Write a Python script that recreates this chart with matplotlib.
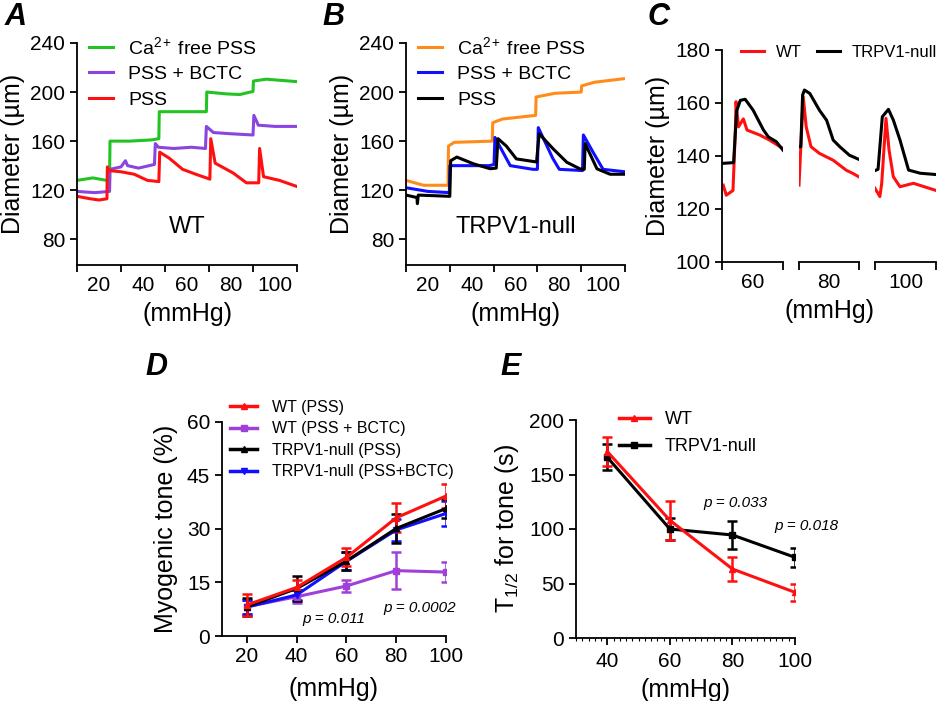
import numpy as np
import matplotlib
matplotlib.use("Agg")
import matplotlib.pyplot as plt
from matplotlib.ticker import MultipleLocator
from matplotlib.lines import Line2D

plt.rcParams['font.family'] = ['Liberation Sans', 'DejaVu Sans']
plt.rcParams['mathtext.fontset'] = 'custom'
plt.rcParams['mathtext.rm'] = 'Liberation Sans'
plt.rcParams['mathtext.it'] = 'Liberation Sans:italic'

# ---- panel A traces (x in pressure-step units, 0..5) ----
a_ca_x = [0, 0.36, 0.67, 0.74, 0.75, 1.2, 1.7, 1.86, 1.87, 2.4, 2.94, 2.95, 3.4, 3.7, 4.0, 4.01, 4.3, 5.0]
a_ca_y = [128, 130, 128, 128, 160, 160, 161, 162, 184, 184, 184, 200, 198.5, 198, 200.5, 209, 210.5, 208.5]
a_bctc_x = [0, 0.4, 0.74, 0.75, 1.0, 1.1, 1.15, 1.4, 1.76, 1.78, 1.85, 2.2, 2.6, 2.92, 2.94, 3.1, 3.5, 4.0, 4.02, 4.12, 4.5, 5.0]
a_bctc_y = [119, 118, 119, 137, 139, 144, 140, 138, 141, 158, 155, 154, 155, 154, 172, 167, 166, 165, 181, 173, 172, 172]
a_pss_x = [0, 0.3, 0.5, 0.68, 0.69, 0.72, 1.0, 1.3, 1.6, 1.86, 1.88, 2.1, 2.4, 2.7, 3.02, 3.04, 3.14, 3.55, 3.85, 4.13, 4.15, 4.24, 4.6, 5.0]
a_pss_y = [115, 113, 112, 113, 139, 136, 135, 133, 128, 127, 151, 146, 137, 133, 129, 162, 142, 134, 126, 126, 154, 131, 128, 123]

# ---- panel B traces ----
b_ca_x = [0, 0.4, 0.96, 0.97, 1.1, 1.97, 1.98, 2.2, 2.96, 2.97, 3.4, 4.0, 4.01, 4.3, 5.0]
b_ca_y = [128, 124, 124, 156, 159, 160, 175, 178, 181, 196, 199, 200, 205, 208, 211]
b_bctc_x = [0, 0.5, 0.99, 1.0, 1.9, 2.01, 2.03, 2.38, 2.9, 3.0, 3.02, 3.35, 3.5, 4.03, 4.05, 4.27, 4.5, 5.0]
b_bctc_y = [122, 119, 118, 140, 140, 141, 163, 140, 137, 137, 171, 146, 137, 136, 165, 151, 137, 135]
b_pss_x = [0, 0.25, 0.26, 0.28, 1.0, 1.02, 1.16, 1.54, 1.92, 2.06, 2.1, 2.29, 2.52, 2.98, 3.04, 3.36, 3.67, 3.97, 4.07, 4.09, 4.36, 4.66, 5.0]
b_pss_y = [116, 114, 109, 116, 115, 144, 147, 141.5, 137.5, 138, 162, 156, 145.5, 143, 166, 153.7, 142.8, 137.4, 137, 158, 137.4, 133, 133]
ab_labels = ['20', '40', '60', '80', '100']

# ---- panel C traces (three pressure windows, x 0..1) ----
c_labels = ['60', '80', '100']
c_wt_x = [[0.02, 0.07, 0.18, 0.22, 0.23, 0.27, 0.35, 0.41, 0.62, 0.78, 1.0],
          [0.0, 0.07, 0.12, 0.2, 0.34, 0.57, 0.79, 0.9, 1.0],
          [0.0, 0.08, 0.11, 0.18, 0.23, 0.3, 0.41, 0.63, 1.0]]
c_wt_y = [[129, 125.2, 127, 150.4, 160.5, 151, 154, 149.8, 147.9, 146, 142.8],
          [129, 162.4, 151, 143.5, 141, 138.4, 134.6, 133.4, 132.1],
          [127.8, 124.7, 129.7, 154.2, 142.3, 132.2, 128.4, 129.7, 127]]
c_ko_x = [[0.0, 0.19, 0.24, 0.3, 0.38, 0.51, 0.68, 0.76, 0.89, 1.0],
          [0.0, 0.03, 0.06, 0.09, 0.18, 0.34, 0.46, 0.57, 0.68, 0.84, 1.0],
          [0.0, 0.05, 0.12, 0.22, 0.3, 0.41, 0.55, 0.74, 1.0]]
c_ko_y = [[137.2, 137.5, 157, 161, 161.4, 157.3, 149.8, 147.2, 145.4, 142.2],
          [143.5, 143.5, 163, 164.9, 163.6, 157.3, 153.5, 146, 143.5, 140.3, 138.7],
          [134.5, 135, 154.8, 157.6, 153.6, 146, 134.7, 133.5, 133]]

# ---- panel D: myogenic tone ----
d_p = [20, 40, 60, 80, 100]
d_wt = [8.7, 13.6, 22.0, 33.1, 39.2]
d_wt_err = [3.0, 2.1, 2.5, 4.0, 3.3]
d_wt_bctc = [8.2, 11.0, 14.0, 18.3, 17.9]
d_wt_bctc_err = [2.0, 1.9, 1.7, 5.1, 2.9]
d_ko = [8.2, 13.3, 21.0, 30.1, 35.7]
d_ko_err = [2.5, 3.5, 2.5, 4.0, 2.7]
d_ko_bctc = [8.1, 11.5, 20.9, 29.7, 34.3]
d_ko_bctc_err = [2.0, 1.5, 2.5, 3.0, 3.4]

# ---- panel E: T1/2 ----
e_p = [40, 60, 80, 100]
e_wt = [171, 108, 63.3, 41.9]
e_wt_err = [13, 18, 11, 8]
e_ko = [165.8, 100, 94.5, 74]
e_ko_err = [12, 10, 13, 9]

W, H = 939, 701
fig = plt.figure(figsize=(W / 100, H / 100), dpi=100)

RED = '#ff1010'
TICK = 15
LAB = 18
CA_LABEL = r'Ca$^{2+}$' + '\u2009free PSS'


def ax_px(l, t, r, b):
    return fig.add_axes([l / W, 1 - b / H, (r - l) / W, (b - t) / H])


def style(ax):
    for s in ['top', 'right']:
        ax.spines[s].set_visible(False)
    for s in ['left', 'bottom']:
        ax.spines[s].set_linewidth(1.3)
    ax.tick_params(width=1.3, length=5, labelsize=TICK, direction='out')


def letter(x, y, s):
    fig.text(x / W, 1 - y / H, s, fontsize=22, fontweight='bold', fontstyle='italic', va='top')


# panel A / B
for (l, r, traces, name, let, lx) in [
        (77, 297, [(a_ca_x, a_ca_y, '#22c322', CA_LABEL),
                   (a_bctc_x, a_bctc_y, '#8a44e0', 'PSS + BCTC'),
                   (a_pss_x, a_pss_y, RED, 'PSS')], 'WT', 'A', 5),
        (406, 625, [(b_ca_x, b_ca_y, '#ff8c1a', CA_LABEL),
                    (b_bctc_x, b_bctc_y, '#1010ff', 'PSS + BCTC'),
                    (b_pss_x, b_pss_y, '#000000', 'PSS')], 'TRPV1-null', 'B', 322)]:
    ax = ax_px(l, 43, r, 265)
    style(ax)
    for x, y, c, lab in traces:
        ax.plot(x, y, color=c, lw=2.2, label=lab)
    ax.set_xlim(0, 5)
    ax.set_ylim(59, 240)
    ax.set_yticks([80, 120, 160, 200, 240])
    ax.set_xticks(np.arange(0.5, 5, 1))
    ax.set_xticklabels(ab_labels)
    ax.set_xticks(np.arange(0, 6, 1), minor=True)
    ax.tick_params(axis='x', which='major', length=0, pad=8)
    ax.tick_params(axis='x', which='minor', length=5, width=1.3)
    ax.set_ylabel('Diameter (µm)', fontsize=LAB, labelpad=4)
    ax.set_xlabel('(mmHg)', fontsize=LAB, labelpad=5)
    ax.text(0.5, 0.17, name, transform=ax.transAxes, ha='center', va='center', fontsize=17)
    ax.legend(loc='upper left', bbox_to_anchor=((l + 12) / W, 1 - 36 / H), bbox_transform=fig.transFigure,
              frameon=False, fontsize=14, handlelength=1.25, handletextpad=0.75, labelspacing=0.4,
              borderaxespad=0, borderpad=0)
    letter(lx, 2, let)

# panel C
c_lr = [(722, 783), (799, 859), (875, 936)]
for i, (l, r) in enumerate(c_lr):
    ax = ax_px(l, 50, r, 262)
    for s in ['top', 'right']:
        ax.spines[s].set_visible(False)
    ax.spines['bottom'].set_linewidth(1.3)
    ax.plot(c_wt_x[i], c_wt_y[i], color=RED, lw=2.2, label='WT')
    ax.plot(c_ko_x[i], c_ko_y[i], color='black', lw=2.2, label='TRPV1-null')
    ax.set_xlim(0, 1)
    ax.set_ylim(100, 180)
    ax.set_xticks([0.5])
    ax.set_xticklabels([c_labels[i]])
    ax.set_xticks([0, 1], minor=True)
    ax.tick_params(axis='x', which='major', length=0, pad=8, labelsize=TICK)
    ax.tick_params(axis='x', which='minor', length=6, width=1.3)
    if i == 0:
        ax.spines['left'].set_linewidth(1.3)
        ax.set_yticks([100, 120, 140, 160, 180])
        ax.tick_params(axis='y', width=1.3, length=5, labelsize=TICK)
        ax.set_ylabel('Diameter (µm)', fontsize=LAB, labelpad=4)
        ax.legend(loc='upper left', bbox_to_anchor=(741 / W, 1 - 45 / H), bbox_transform=fig.transFigure,
                  frameon=False, fontsize=12, ncol=2, handlelength=1.4, handletextpad=0.7,
                  columnspacing=0.9, borderaxespad=0, borderpad=0)
    else:
        ax.spines['left'].set_visible(False)
        ax.set_yticks([])
    if i == 1:
        ax.set_xlabel('(mmHg)', fontsize=LAB, labelpad=5)
    ax.patch.set_alpha(0)
letter(648, 2, 'C')

# panel D
ax = ax_px(222, 421.7, 446, 636)
style(ax)
d_series = [(d_wt, d_wt_err, RED, '^', 'WT (PSS)'),
            (d_wt_bctc, d_wt_bctc_err, '#a040d8', 's', 'WT (PSS + BCTC)'),
            (d_ko, d_ko_err, 'black', '^', 'TRPV1-null (PSS)'),
            (d_ko_bctc, d_ko_bctc_err, '#1010ff', 'v', 'TRPV1-null (PSS+BCTC)')]
for k in [1, 3, 2, 0]:
    y, e, c, m, lab = d_series[k]
    ax.errorbar(d_p, y, yerr=e, color=c, marker=m, ms=5, lw=2.2, capsize=3.5, elinewidth=1.8,
                capthick=1.8)
handles = [Line2D([], [], color=c, marker=m, ms=5, lw=2.5) for _, _, c, m, _ in d_series]
ax.legend(handles, [s[4] for s in d_series], loc='upper left',
          bbox_to_anchor=(230 / W, 1 - 400 / H), bbox_transform=fig.transFigure,
          frameon=False, fontsize=11.5, handlelength=1.7, handletextpad=0.9, labelspacing=0.4,
          borderaxespad=0, borderpad=0)
ax.set_xlim(10, 100)
ax.set_ylim(0, 60)
ax.set_xticks(d_p)
ax.set_yticks([0, 15, 30, 45, 60])
ax.tick_params(axis='x', pad=3)
ax.set_ylabel('Myogenic tone (%)', fontsize=LAB, labelpad=6)
ax.set_xlabel('(mmHg)', fontsize=LAB, labelpad=8)
ax.text(55, 4.8, 'p = 0.011', fontsize=11, style='italic', ha='center', va='center')
ax.text(89.5, 7.8, 'p = 0.0002', fontsize=11, style='italic', ha='center', va='center', clip_on=False)
letter(145, 352, 'D')

# panel E
ax = ax_px(576, 420, 795, 638)
style(ax)
ax.errorbar(e_p, e_ko, yerr=e_ko_err, color='black', marker='s', ms=5, lw=2.2, capsize=3.5,
            elinewidth=1.8, capthick=1.8)
ax.errorbar(e_p, e_wt, yerr=e_wt_err, color=RED, marker='^', ms=5, lw=2.2, capsize=3.5,
            elinewidth=1.8, capthick=1.8)
handles = [Line2D([], [], color=RED, marker='^', ms=5, lw=2.5),
           Line2D([], [], color='black', marker='s', ms=5, lw=2.5)]
ax.legend(handles, ['WT', 'TRPV1-null'], loc='upper left', bbox_to_anchor=(619 / W, 1 - 411 / H),
          bbox_transform=fig.transFigure, frameon=False, fontsize=13, handlelength=1.7,
          handletextpad=0.85, labelspacing=0.55, borderaxespad=0, borderpad=0)
ax.set_xlim(30, 100)
ax.set_ylim(0, 200)
ax.set_xticks(e_p)
ax.xaxis.set_minor_locator(MultipleLocator(2))
ax.tick_params(axis='x', which='minor', length=2, width=0.8)
ax.set_yticks([0, 50, 100, 150, 200])
ax.tick_params(axis='x', pad=5)
ax.set_ylabel('T$_{1/2}$ for tone (s)', fontsize=LAB, labelpad=6)
ax.set_xlabel('(mmHg)', fontsize=LAB, labelpad=5)
ax.text(81, 124, 'p = 0.033', fontsize=11, style='italic', ha='center', va='center')
ax.text(103.5, 103, 'p = 0.018', fontsize=11, style='italic', ha='center', va='center', clip_on=False)
letter(500, 352, 'E')

fig.savefig('out.png', dpi=100)
